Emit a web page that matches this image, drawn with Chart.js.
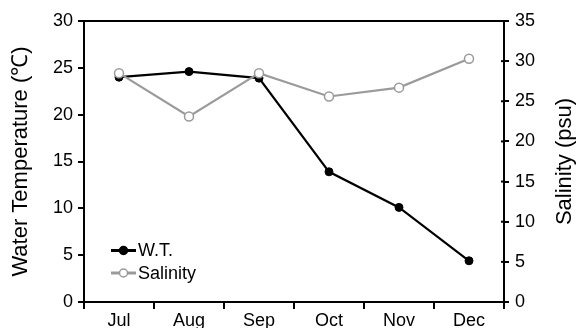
<!DOCTYPE html>
<html>
<head>
<meta charset="utf-8">
<script src="https://cdn.jsdelivr.net/npm/chart.js@4/dist/chart.umd.min.js"></script>
<style>
  html, body { margin: 0; padding: 0; background: #fff; }
  #wrap { width: 577px; height: 328px; position: relative; }
</style>
</head>
<body>
<div id="wrap"><canvas id="c"></canvas></div>
<script>
// Monthly observations
const months = ['Jul', 'Aug', 'Sep', 'Oct', 'Nov', 'Dec'];
const waterTemp = [24.0, 24.6, 23.9, 13.9, 10.1, 4.4];   // °C
const salinity = [28.5, 23.1, 28.5, 25.6, 26.7, 30.3];   // psu

const leftTicks = [0, 5, 10, 15, 20, 25, 30];
const rightTicks = [0, 5, 10, 15, 20, 25, 30, 35];

const FONT = '"Liberation Sans", Arial, Helvetica, sans-serif';
const GREY = '#9a9a9a';

// Frame line on top, rotated axis titles and in-plot legend
const decor = {
  id: 'decor',
  afterDraw(chart) {
    const ctx = chart.ctx;
    const a = chart.chartArea;
    ctx.save();
    ctx.strokeStyle = '#000';
    ctx.lineWidth = 2;
    ctx.beginPath();
    ctx.moveTo(a.left - 1, a.top);
    ctx.lineTo(a.right + 1, a.top);
    ctx.stroke();

    // short inward tick marks on the right axis
    const yr = chart.scales.y2;
    ctx.lineWidth = 2;
    rightTicks.forEach(v => {
      const y = yr.getPixelForValue(v);
      ctx.beginPath();
      ctx.moveTo(a.right - 3, y);
      ctx.lineTo(a.right, y);
      ctx.stroke();
    });

    // axis titles
    ctx.fillStyle = '#000';
    ctx.font = '22px ' + FONT;
    ctx.textAlign = 'center';
    ctx.textBaseline = 'middle';
    const cy = (a.top + a.bottom) / 2;
    ctx.save();
    ctx.translate(21, cy);
    ctx.rotate(-Math.PI / 2);
    ctx.fillText('Water Temperature (\u2103)', 0, 0);
    ctx.restore();
    ctx.save();
    ctx.translate(565, cy);
    ctx.rotate(-Math.PI / 2);
    ctx.fillText('Salinity (psu)', 0, 0);
    ctx.restore();

    // legend
    const rows = [250.5, 273];
    chart.data.datasets.forEach((ds, i) => {
      const y = rows[i];
      const x0 = a.left + 27, x1 = a.left + 52;
      ctx.strokeStyle = ds.borderColor;
      ctx.lineWidth = 3;
      ctx.beginPath();
      ctx.moveTo(x0, y);
      ctx.lineTo(x1, y);
      ctx.stroke();
      ctx.beginPath();
      ctx.arc((x0 + x1) / 2, y, 4, 0, Math.PI * 2);
      ctx.fillStyle = ds.pointBackgroundColor;
      ctx.fill();
      ctx.lineWidth = 1.5;
      ctx.strokeStyle = ds.pointBorderColor;
      ctx.stroke();
      ctx.fillStyle = '#000';
      ctx.font = '18px ' + FONT;
      ctx.textAlign = 'left';
      ctx.textBaseline = 'middle';
      ctx.fillText(ds.label, x1 + 2, y + 1);
    });
    ctx.restore();
  }
};

new Chart(document.getElementById('c'), {
  type: 'line',
  data: {
    labels: months,
    datasets: [
      {
        label: 'W.T.',
        data: waterTemp,
        yAxisID: 'y',
        borderColor: '#000',
        borderWidth: 2.2,
        pointRadius: 4,
        pointBackgroundColor: '#000',
        pointBorderColor: '#000',
        pointBorderWidth: 1,
        tension: 0,
        order: 1
      },
      {
        label: 'Salinity',
        data: salinity,
        yAxisID: 'y2',
        borderColor: GREY,
        borderWidth: 2.2,
        pointRadius: 4.5,
        pointBackgroundColor: '#fff',
        pointBorderColor: GREY,
        pointBorderWidth: 1.5,
        tension: 0,
        order: 0
      }
    ]
  },
  options: {
    responsive: true,
    maintainAspectRatio: false,
    animation: false,
    events: [],
    layout: { padding: { top: 21, left: 0, right: 0, bottom: 0 } },
    plugins: { legend: { display: false }, tooltip: { enabled: false } },
    scales: {
      x: {
        type: 'category',
        offset: true,
        grid: { display: true, offset: true, drawOnChartArea: false, drawTicks: true, tickLength: 7, color: '#000', lineWidth: 2 },
        border: { display: true, color: '#000', width: 2 },
        ticks: { color: '#000', font: { family: FONT, size: 18 }, padding: 1, maxRotation: 0, autoSkip: false },
        afterFit(s) { s.height = 26; }
      },
      y: {
        position: 'left',
        min: 0, max: 30,
        afterBuildTicks(s) { s.ticks = leftTicks.map(v => ({ value: v })); },
        grid: { display: true, drawOnChartArea: false, drawTicks: true, tickLength: 6, color: '#000', lineWidth: 2 },
        border: { display: true, color: '#000', width: 2 },
        ticks: { color: '#000', font: { family: FONT, size: 18 }, padding: 5 },
        afterFit(s) { s.width = 84; }
      },
      y2: {
        position: 'right',
        min: 0, max: 35,
        afterBuildTicks(s) { s.ticks = rightTicks.map(v => ({ value: v })); },
        grid: { display: true, drawOnChartArea: false, drawTicks: true, tickLength: 5, color: '#000', lineWidth: 2 },
        border: { display: true, color: '#000', width: 2 },
        ticks: { color: '#000', font: { family: FONT, size: 18 }, padding: 6 },
        afterFit(s) { s.width = 73; }
      }
    }
  },
  plugins: [decor]
});
</script>
</body>
</html>
